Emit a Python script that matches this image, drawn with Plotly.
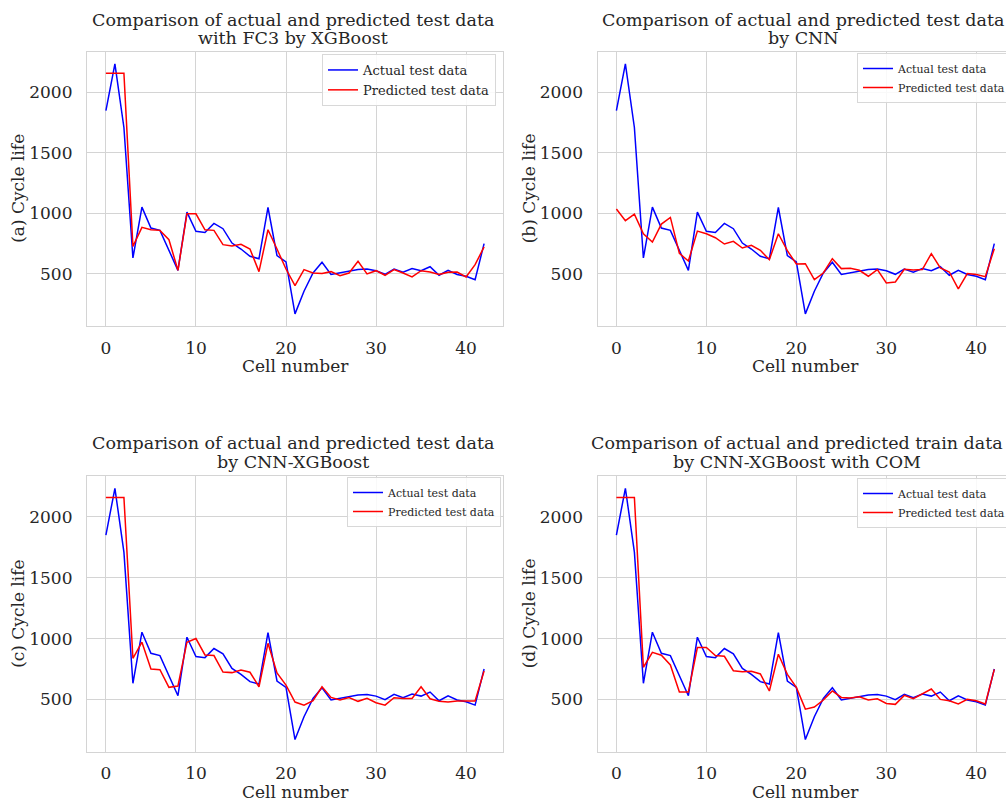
import plotly.graph_objects as go

cells = list(range(43))
actual = [1850, 2235, 1710, 632, 1052, 879, 860, 700, 530, 1011, 852, 843, 918, 874, 755, 706, 646, 626, 1049, 651, 599, 170,
          357, 508, 596, 495, 508, 527, 536, 541, 527, 497, 541, 514, 544, 527, 560, 489, 530, 495, 481, 453, 750]
pred_a = [2159, 2159, 2159, 728, 885, 865, 860, 783, 530, 997, 997, 865, 860, 742, 731, 745, 706, 519, 865, 706, 541, 404,
          536, 508, 503, 519, 486, 508, 604, 500, 527, 489, 536, 508, 475, 527, 516, 495, 514, 516, 475, 577, 723]
pred_b = [1036, 940, 994, 832, 764, 912, 967, 670, 607, 854, 832, 799, 747, 769, 714, 736, 695, 618, 832, 692, 582, 585,
          453, 508, 626, 544, 547, 530, 481, 536, 426, 434, 538, 533, 536, 668, 549, 516, 376, 503, 495, 478, 709]
pred_c = [2159, 2159, 2159, 838, 970, 750, 744, 599, 610, 970, 1000, 865, 860, 725, 720, 742, 723, 604, 961, 717, 618, 478,
          453, 489, 604, 516, 495, 516, 484, 508, 473, 453, 514, 508, 508, 604, 505, 484, 478, 486, 489, 486, 733]
pred_d = [2159, 2159, 2159, 764, 887, 863, 783, 560, 560, 926, 926, 860, 854, 736, 728, 731, 709, 569, 871, 706, 599, 420,
          437, 495, 569, 516, 511, 522, 495, 505, 467, 459, 533, 505, 544, 585, 500, 489, 462, 500, 489, 462, 747]

title_line1 = ["Comparison of actual and predicted test data",
               "Comparison of actual and predicted test data",
               "Comparison of actual and predicted test data",
               "Comparison of actual and predicted train data"]
title_line2 = ["with FC3 by XGBoost", "by CNN", "by CNN-XGBoost", "by CNN-XGBoost with COM"]
ylabels = ["(a) Cycle life", "(b) Cycle life", "(c) Cycle life", "(d) Cycle life"]
xlabel = "Cell number"
preds = [pred_a, pred_b, pred_c, pred_d]
xticks = [0, 10, 20, 30, 40]
yticks = [500, 1000, 1500, 2000]

W, H = 1006, 801
FONT = "DejaVu Serif"
TXT = "#262626"
GRID = "#d4d4d4"

# pixel boxes: (left, right, top, bottom)
boxes = [(87, 503, 51.7, 326), (597.5, 1006, 51.7, 326),
         (87, 503, 476, 751.7), (597.5, 1006, 476, 751.7)]
xranges = [[-2.1, 44.1], [-2.1, 43.3], [-2.1, 44.1], [-2.1, 43.3]]
yrange = [70, 2336]
legpos = [(322, 54, 13), (857, 53, 11), (347, 477, 11), (857, 478, 11)]
title_y = [(20, 38), (20, 38), (443, 462), (443, 462)]
title_dx = [-2, -2, -2, -8]

fig = go.Figure()
layout = dict(width=W, height=H, autosize=False,
              margin=dict(l=0, r=0, t=0, b=0, autoexpand=False),
              paper_bgcolor="white", plot_bgcolor="white",
              font=dict(family=FONT, color=TXT), annotations=[])


def ann(text, px, py, size=17, angle=0):
    return dict(text=text, x=px / W, y=1 - py / H, xref="paper", yref="paper",
                xanchor="center", yanchor="middle", showarrow=False, textangle=angle,
                font=dict(family=FONT, size=size, color=TXT))


for k in range(4):
    sfx = "" if k == 0 else str(k + 1)
    leg = "legend" if k == 0 else "legend" + str(k + 1)
    fig.add_trace(go.Scatter(x=cells, y=actual, mode="lines", name="Actual test data",
                             line=dict(color="blue", width=1.5), xaxis="x" + sfx, yaxis="y" + sfx,
                             legend=leg))
    fig.add_trace(go.Scatter(x=cells, y=preds[k], mode="lines", name="Predicted test data",
                             line=dict(color="red", width=1.5), xaxis="x" + sfx, yaxis="y" + sfx,
                             legend=leg))
    l, r, t, b = boxes[k]
    layout["xaxis" + sfx] = dict(domain=[l / W, r / W], range=xranges[k], anchor="y" + sfx,
                                 tickvals=xticks, showgrid=True, gridcolor=GRID, gridwidth=1,
                                 showline=True, linecolor=GRID, linewidth=1.2, mirror=True,
                                 zeroline=False, ticks="", ticklabelstandoff=6, automargin=False,
                                 tickfont=dict(family=FONT, size=17, color=TXT))
    layout["yaxis" + sfx] = dict(domain=[1 - b / H, 1 - t / H], range=yrange, anchor="x" + sfx,
                                 tickvals=yticks, showgrid=True, gridcolor=GRID, gridwidth=1,
                                 showline=True, linecolor=GRID, linewidth=1.2, mirror=True,
                                 zeroline=False, ticks="", ticklabelstandoff=10, automargin=False,
                                 tickfont=dict(family=FONT, size=17, color=TXT))
    lx, ly, lf = legpos[k]
    layout[leg] = dict(x=lx / W, y=1 - ly / H, xanchor="left", yanchor="top",
                       bgcolor="rgba(255,255,255,0.85)", bordercolor="#d8d8d8", borderwidth=1,
                       font=dict(family=FONT, size=lf, color=TXT), tracegroupgap=0,
                       itemwidth=30)
    cx = (l + (r if k % 2 == 0 else 1013)) / 2
    layout["annotations"].append(ann(title_line1[k], cx + title_dx[k], title_y[k][0], size=17.5))
    layout["annotations"].append(ann(title_line2[k], cx + title_dx[k], title_y[k][1], size=17.5))
    layout["annotations"].append(ann(xlabel, cx, b + 40))
    layout["annotations"].append(ann(ylabels[k], l - 69, (t + b) / 2, angle=-90))

fig.update_layout(**layout)
fig.write_html("out.html", config={"displayModeBar": False, "responsive": False},
               post_script="document.body.style.margin='0px';document.body.style.overflow='hidden';")
